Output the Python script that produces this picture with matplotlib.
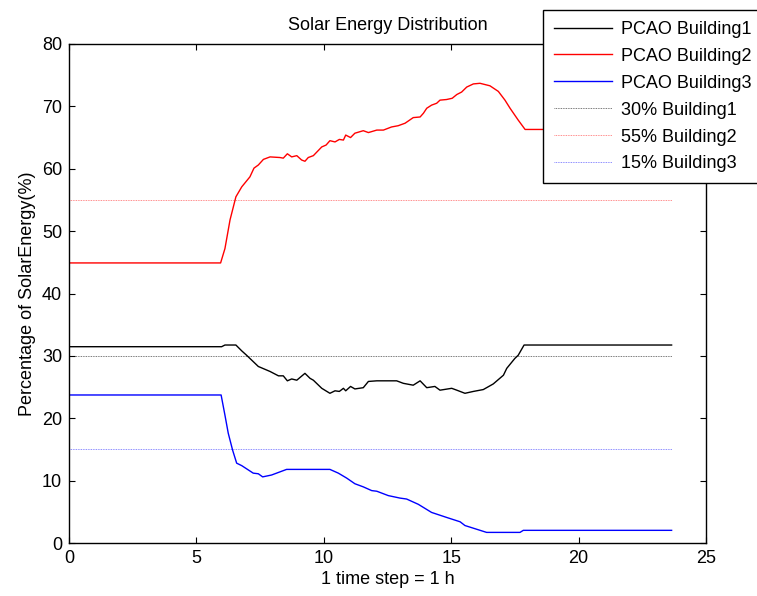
import matplotlib
matplotlib.use("Agg")
import matplotlib.pyplot as plt

plt.rcParams['font.family'] = ['Liberation Sans', 'DejaVu Sans']

# PCAO Building1 (black)
t1 = [0, 5.99, 6.12, 6.55, 6.78, 6.97, 7.43, 7.89, 8.22, 8.41, 8.57, 8.74, 8.94, 9.26, 9.46,
      9.59, 9.92, 10.24, 10.44, 10.61, 10.77, 10.86, 11.05, 11.22, 11.55, 11.75, 12.08, 12.86,
      13.12, 13.51, 13.78, 14.04, 14.36, 14.56, 15.02, 15.22, 15.54, 15.87, 16.26, 16.65, 17.05,
      17.18, 17.5, 17.63, 17.86, 23.65]
b1 = [31.47, 31.47, 31.74, 31.74, 30.8, 30.1, 28.3, 27.5, 26.8, 26.8, 26.0, 26.3, 26.1, 27.2, 26.4,
      26.1, 24.8, 24.0, 24.4, 24.3, 24.8, 24.4, 25.1, 24.7, 24.9, 25.9, 26.0, 26.0,
      25.6, 25.3, 26.0, 24.9, 25.1, 24.5, 24.8, 24.5, 24.0, 24.3, 24.6, 25.5, 26.9,
      28.0, 29.6, 30.1, 31.74, 31.74]

# PCAO Building2 (red)
t2 = [0, 5.95, 6.12, 6.32, 6.55, 6.78, 7.1, 7.26, 7.43, 7.63, 7.89, 8.28, 8.41, 8.57, 8.74, 8.94,
      9.13, 9.26, 9.39, 9.59, 9.92, 10.09, 10.24, 10.44, 10.61, 10.77, 10.86, 11.05, 11.22,
      11.55, 11.75, 12.08, 12.34, 12.66, 12.92, 13.19, 13.51, 13.78, 13.91, 14.04, 14.23, 14.43,
      14.56, 14.82, 15.04, 15.22, 15.41, 15.61, 15.87, 16.13, 16.52, 16.85, 17.11, 17.31, 17.63,
      17.9, 23.65]
b2 = [44.9, 44.9, 47.2, 51.8, 55.5, 57.1, 58.7, 60.1, 60.6, 61.5, 61.9, 61.8, 61.7, 62.4, 61.9, 62.1,
      61.4, 61.2, 61.8, 62.1, 63.5, 63.8, 64.5, 64.3, 64.7, 64.6, 65.4, 65.0, 65.7,
      66.1, 65.8, 66.2, 66.2, 66.7, 66.9, 67.3, 68.2, 68.3, 68.9, 69.7, 70.2, 70.5,
      71.0, 71.1, 71.3, 71.9, 72.3, 73.1, 73.6, 73.7, 73.3, 72.4, 71.0, 69.7, 67.8,
      66.3, 66.3]

# PCAO Building3 (blue)
t3 = [0, 5.97, 6.12, 6.25, 6.42, 6.58, 6.78, 7.23, 7.43, 7.6, 7.95, 8.54, 10.24, 10.57, 10.9,
      11.22, 11.55, 11.88, 12.08, 12.53, 12.99, 13.25, 13.71, 14.23, 14.82, 15.35, 15.54, 16.39,
      17.7, 17.83, 23.65]
b3 = [23.73, 23.73, 20.5, 17.6, 14.9, 12.8, 12.4, 11.2, 11.1, 10.6, 10.9, 11.8, 11.8, 11.2, 10.4,
      9.5, 9.0, 8.4, 8.3, 7.6, 7.2, 7.05, 6.2, 4.9, 4.1, 3.4, 2.8, 1.7,
      1.7, 2.03, 2.03]

ref_t = [0, 23.65]
ref1 = 30
ref2 = 55
ref3 = 15

FS = 13

fig = plt.figure(figsize=(7.57, 5.96), dpi=100)
ax = fig.add_axes([69/757, 1-543/596, 637/757, 499/596])

l1, = ax.plot(t1, b1, color='k', lw=1.0, label='PCAO Building1')
l2, = ax.plot(t2, b2, color='r', lw=1.0, label='PCAO Building2')
l3, = ax.plot(t3, b3, color='b', lw=1.0, label='PCAO Building3')
r1, = ax.plot(ref_t, [ref1]*2, color='k', lw=0.6, ls=(0, (1, 1)), alpha=0.7, label='30% Building1')
r2, = ax.plot(ref_t, [ref2]*2, color='r', lw=0.6, ls=(0, (1, 1)), alpha=0.6, label='55% Building2')
r3, = ax.plot(ref_t, [ref3]*2, color='b', lw=0.6, ls=(0, (1, 1)), alpha=0.6, label='15% Building3')

ax.set_xlim(0, 25)
ax.set_ylim(0, 80)
ax.set_xticks([0, 5, 10, 15, 20, 25])
ax.set_yticks(range(0, 81, 10))
ax.tick_params(direction='in', top=True, right=True, length=4, width=0.8, labelsize=FS, pad=5)
for s in ax.spines.values():
    s.set_linewidth(1.0)

ax.set_title('Solar Energy Distribution', fontsize=FS, pad=10)
ax.set_xlabel('1 time step = 1 h', fontsize=FS, labelpad=3)
ax.set_ylabel('Percentage of SolarEnergy(%)', fontsize=FS, labelpad=4)

leg = fig.legend(handles=[l1, l2, l3, r1, r2, r3], loc='upper left',
                 bbox_to_anchor=(543/757, 1-10/596), bbox_transform=fig.transFigure,
                 borderaxespad=0, fancybox=False, edgecolor='k', framealpha=1,
                 fontsize=FS, handlelength=3.2, labelspacing=0.55, borderpad=0.6,
                 handletextpad=0.5)
leg.get_frame().set_linewidth(1.0)

fig.savefig('out.png', dpi=100)
